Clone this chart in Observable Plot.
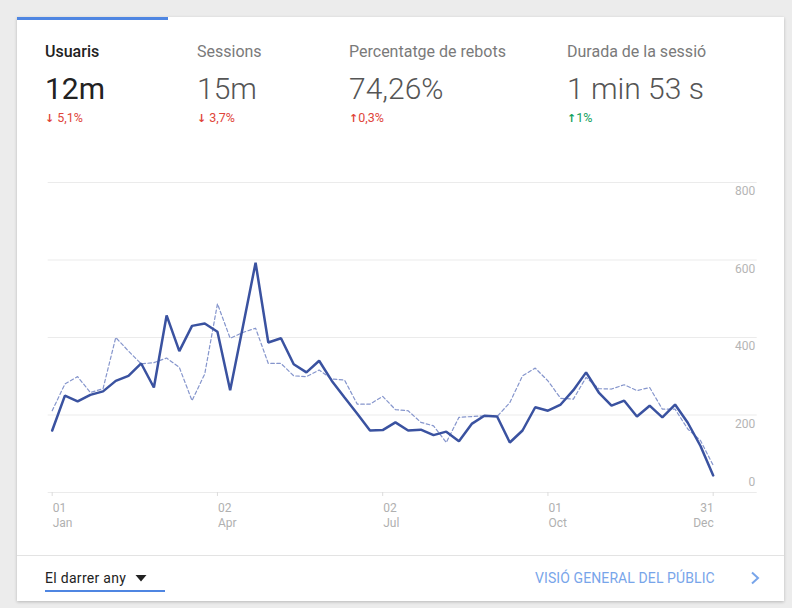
<!DOCTYPE html>
<html>
<head>
<meta charset="utf-8">
<script src="https://cdn.jsdelivr.net/npm/d3@7"></script>
<script src="https://cdn.jsdelivr.net/npm/@observablehq/plot@0.6"></script>
<style>
  html, body { margin: 0; padding: 0; }
  body { width: 792px; height: 608px; background: #ececec; position: relative; overflow: hidden; font-family: Roboto, "Noto Sans", sans-serif; }
  #card { position: absolute; left: 17px; top: 17px; width: 767px; height: 584px; background: #fff; box-shadow: 0 1px 3px rgba(0,0,0,0.22); }
  #tab { position: absolute; left: 17px; top: 17px; width: 151px; height: 3px; background: #4f86e2; }
  .t { position: absolute; line-height: 1; white-space: nowrap; }
  .lab { font-size: 16px; color: #7a7a7a; font-weight: 400; }
  .lab.sel { color: #222; font-weight: 500; }
  .val { font-size: 30px; color: #555; font-weight: 300; }
  .val.sel { color: #222; font-weight: 400; }
  .chg { font-size: 12.5px; }
  .down { color: #e0453a; }
  .up { color: #12a05c; }
  .arrow { font-family: "DejaVu Sans", sans-serif; font-weight: bold; font-size: 11px; }
  #divider { position: absolute; left: 17px; top: 555px; width: 767px; height: 1px; background: #e3e3e3; }
  #chart { position: absolute; left: 0; top: 170px; }
</style>
</head>
<body>
<div id="card"></div>
<div id="tab"></div>
<div id="header"></div>
<div id="chart"></div>
<div id="divider"></div>
<div class="t" style="left:45px; top:571px; font-size:14px; color:#222; letter-spacing:0.3px;">El darrer any</div>
<svg style="position:absolute; left:135px; top:574px;" width="12" height="8"><polygon points="0.5,1 11.5,1 6,7.5" fill="#222"/></svg>
<div style="position:absolute; left:45px; top:590px; width:120px; height:2px; background:#4f86e2;"></div>
<div class="t" style="left:535px; top:571px; font-size:14px; color:#78a5ea; letter-spacing:0.1px;">VISIÓ GENERAL DEL PÚBLIC</div>
<svg style="position:absolute; left:749px; top:571px;" width="12" height="14"><polyline points="3,1.5 9,7 3,12.5" fill="none" stroke="#78a5ea" stroke-width="2"/></svg>
<script>
// Header metrics
const metricLabels = ["Usuaris", "Sessions", "Percentatge de rebots", "Durada de la sessió"];
const metricValues = ["12m", "15m", "74,26%", "1 min 53 s"];
const metricChanges = ["5,1%", "3,7%", "0,3%", "1%"];
const metricDirections = ["down", "down", "up", "up"];
const metricGood = [false, false, false, true];

// Weekly series (week start dates, 2017)
const weeks = ["01-01","01-08","01-15","01-22","01-29","02-05","02-12","02-19","02-26",
  "03-05","03-12","03-19","03-26","04-02","04-09","04-16","04-23","04-30",
  "05-07","05-14","05-21","05-28","06-04","06-11","06-18","06-25",
  "07-02","07-09","07-16","07-23","07-30","08-06","08-13","08-20","08-27",
  "09-03","09-10","09-17","09-24","10-01","10-08","10-15","10-22","10-29",
  "11-05","11-12","11-19","11-26","12-03","12-10","12-17","12-24","12-31"];
const users = [160,250,235,252,261,288,301,333,271,457,365,430,436,415,264,428,593,387,398,
  331,310,340,288,245,203,160,161,181,160,162,148,157,132,177,198,196,129,160,220,211,
  227,264,310,258,224,237,196,224,194,227,180,120,44];
const usersPrev = [211,280,299,258,268,400,365,332,335,347,323,237,306,487,398,413,424,333,333,
  301,299,316,293,290,228,228,248,214,211,181,172,129,194,196,198,196,232,301,321,288,
  243,241,297,268,267,278,263,271,215,215,164,134,70];

const xTicks = ["2017-01-01","2017-04-02","2017-07-02","2017-10-01","2017-12-31"];
const yTicks = [0, 200, 400, 600, 800];

// header
const xs = [45, 197, 349, 567];
const header = document.getElementById("header");
metricLabels.forEach((lab, i) => {
  const sel = i === 0 ? " sel" : "";
  const arrow = metricDirections[i] === "down" ? "↓" : "↑";
  const cls = metricGood[i] ? "up" : "down";
  header.insertAdjacentHTML("beforeend",
    `<div class="t lab${sel}" style="left:${xs[i]}px; top:44px;">${lab}</div>` +
    `<div class="t val${sel}" style="left:${xs[i]}px; top:74px;">${metricValues[i]}</div>` +
    `<div class="t chg ${cls}" style="left:${xs[i]}px; top:112px;"><span class="arrow">${arrow}</span>${i < 2 ? " " : ""}${metricChanges[i]}</div>`);
});

const data = weeks.map((w, i) => ({date: new Date("2017-" + w), users: users[i], prev: usersPrev[i]}));
const tickDates = xTicks.map(d => new Date(d));
const fmt = d3.utcFormat("%d\n%b");

const chart = Plot.plot({
  width: 792,
  height: 360,
  marginLeft: 51.7,
  marginRight: 79.3,
  marginTop: 12,
  marginBottom: 38,
  style: {background: "transparent", fontFamily: "Roboto, sans-serif"},
  x: {type: "utc", domain: [tickDates[0], tickDates[tickDates.length - 1]], axis: null},
  y: {domain: [0, 800], axis: null},
  marks: [
    Plot.ruleY(yTicks, {stroke: "#ebebeb", strokeWidth: 1, insetLeft: -4, insetRight: -44}),
    Plot.ruleX(tickDates, {y1: 0, y2: 0, stroke: "#dcdcdc", insetBottom: -4}),
    Plot.text(yTicks.filter(d => d > 0), {x: tickDates[tickDates.length - 1], y: d => d, text: d => String(d), dx: 42, dy: 9, textAnchor: "end", fill: "#b5b5b5", fontSize: 12}),
    Plot.text(yTicks.filter(d => d === 0), {x: tickDates[tickDates.length - 1], y: d => d, text: d => String(d), dx: 42, dy: -10, textAnchor: "end", fill: "#b5b5b5", fontSize: 12}),
    Plot.text(tickDates.slice(0, -1), {x: d => d, frameAnchor: "bottom", text: d => fmt(d), lineAnchor: "top", lineHeight: 1.25, dy: 9, dx: 0.5, textAnchor: "start", fill: "#b0b0b0", fontSize: 12}),
    Plot.text(tickDates.slice(-1), {x: d => d, frameAnchor: "bottom", text: d => fmt(d), lineAnchor: "top", lineHeight: 1.25, dy: 9, dx: 0.5, textAnchor: "end", fill: "#b0b0b0", fontSize: 12}),
    Plot.line(data, {x: "date", y: "prev", stroke: "#8595cc", strokeWidth: 1.2, strokeDasharray: "3.5,2.5"}),
    Plot.line(data, {x: "date", y: "users", stroke: "#3a52a0", strokeWidth: 2.5, strokeLinejoin: "miter"})
  ]
});
document.getElementById("chart").appendChild(chart);
</script>
</body>
</html>
